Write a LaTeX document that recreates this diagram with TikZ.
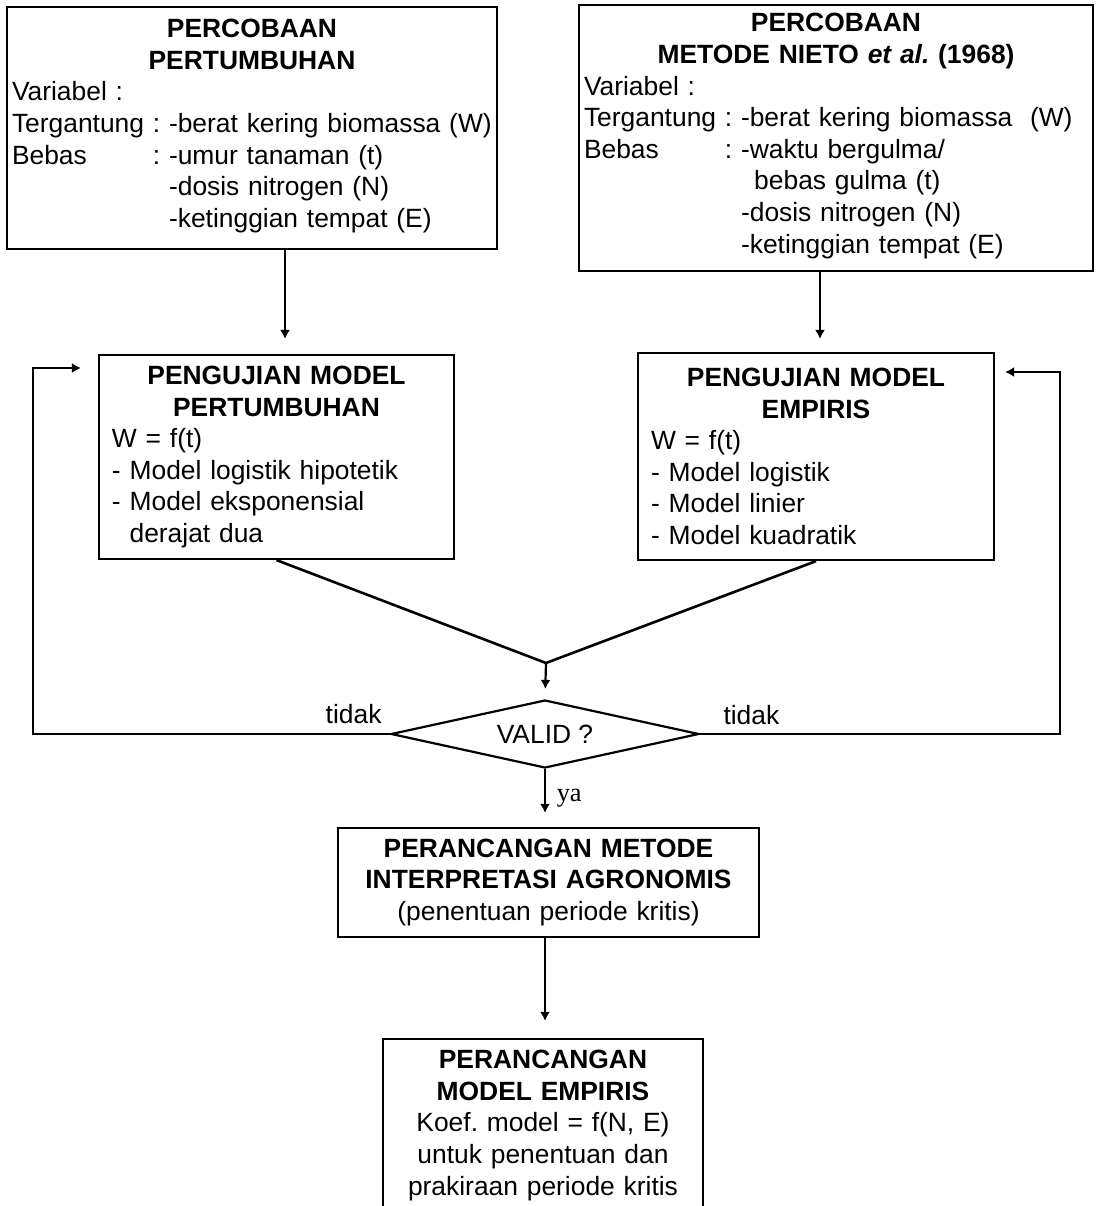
\documentclass[tikz,border=0pt]{standalone}
\usepackage{fontspec}
\setmainfont{Liberation Sans}
\newfontfamily\yafont{Liberation Serif}
\usepackage{tikz}
\usetikzlibrary{arrows.meta,shapes,positioning}
\frenchspacing
\tikzset{
  box/.style={draw, line width=1.1pt, inner xsep=2.5pt, inner ysep=0pt, align=left,
    font=\fontsize{13.2}{15.8}\selectfont},
  decision/.style={diamond, draw, line width=1.1pt, aspect=4.5, minimum width=154pt,
    minimum height=34pt, inner sep=0pt, font=\fontsize{13.2}{15.8}\selectfont},
  link/.style={line width=1.1pt, -{Latex[length=4.5pt,width=5pt]}},
  lbl/.style={font=\fontsize{13.2}{15.8}\selectfont, inner sep=0pt}
}

\begin{document}
\begin{tikzpicture}[x=0.5pt, y=-0.5pt]
        % Page frame
        \clip (0,0) rectangle (1098,1206);
        \fill[white] (0,0) rectangle (1098,1206);

        % Experiments
        \node[box, text width=240pt, minimum width=245pt, minimum height=121pt] (perc1) at (252,128) {%
            {\centering\bfseries PERCOBAAN\\PERTUMBUHAN\par}
            Variabel :\\
            \begin{tabular}[t]{@{}l@{ }l@{}}
            Tergantung & : -berat kering biomassa (W)\\
            Bebas      & : -umur tanaman (t)\\
                       & \phantom{: }-dosis nitrogen (N)\\
                       & \phantom{: }-ketinggian tempat (E)
            \end{tabular}};
        \node[box, text width=252pt, minimum width=257pt, minimum height=133pt] (perc2) at (836,138) {%
            {\centering\bfseries PERCOBAAN\\METODE NIETO \textit{et al.} (1968)\par}
            Variabel :\\
            \begin{tabular}[t]{@{}l@{ }l@{}}
            Tergantung & : -berat kering biomassa~~(W)\\
            Bebas      & : -waktu bergulma/\\
                       & \phantom{: -}\,bebas gulma (t)\\
                       & \phantom{: }-dosis nitrogen (N)\\
                       & \phantom{: }-ketinggian tempat (E)
            \end{tabular}};

        % Model tests
        \node[box, inner xsep=6.5pt, text width=164.5pt, minimum width=177.5pt, minimum height=102pt] (uji1) at (276.5,457) {%
            {\centering\bfseries PENGUJIAN MODEL\\PERTUMBUHAN\par}
            W = f(t)\\
            - Model logistik hipotetik\\
            - Model eksponensial\\
            \phantom{- }derajat dua};
        \node[box, inner xsep=6.5pt, text width=165pt, minimum width=178pt, minimum height=103.5pt] (uji2) at (816,456.5) {%
            {\centering\bfseries PENGUJIAN MODEL\\EMPIRIS\par}
            W = f(t)\\
            - Model logistik\\
            - Model linier\\
            - Model kuadratik};

        % Decision
        \coordinate (merge) at (546,663);
        \node[decision] (valid) at (545,734) {VALID ?};

        % Design steps
        \node[box, align=center, text width=205pt, minimum width=210.5pt, minimum height=54.5pt] (rancang1) at (548.5,882.5) {%
            {\bfseries PERANCANGAN METODE\\INTERPRETASI AGRONOMIS}\\
            (penentuan periode kritis)};
        \node[box, align=center, text width=155pt, minimum width=160pt, minimum height=86.5pt] (rancang2) at (543,1125.5) {%
            {\bfseries PERANCANGAN\\MODEL EMPIRIS}\\
            Koef. model = f(N, E)\\
            untuk penentuan dan\\
            prakiraan periode kritis};

        % Arrows between the boxes
        \coordinate (a1) at (285,0);
        \coordinate (a2) at (820,0);
        \draw[link, shorten >=7.5pt] (perc1.south -| a1) -- (uji1.north -| a1);
        \draw[link, shorten >=6.5pt] (perc2.south -| a2) -- (uji2.north -| a2);
        \draw[line width=1.3pt] (uji1.south) -- (merge) -- (uji2.south);
        \draw[link, shorten >=5pt] (merge) -- (valid.north);

        % Feedback loops
        \coordinate (lb) at (33,368);
        \coordinate (rb) at (1060,372);
        \draw[link, shorten >=8.5pt] (valid.west) -| (lb) -- (lb -| uji1.west);
        \draw[link, shorten >=5pt] (valid.east) -| (rb) -- (rb -| uji2.east);
        \node[lbl, above left=5pt and 4pt of valid.west] (tidakL) {tidak};
        \node[lbl, above right=4.5pt and 11.5pt of valid.east] (tidakR) {tidak};

        % Accepted path
        \draw[link, shorten >=7pt] (valid.south) -- (valid.south |- rancang1.north)
            node[pos=0.5, right=2pt, font=\yafont\fontsize{13.2}{15.8}\selectfont] (ya) {ya};
        \draw[link, shorten >=8.5pt] (rancang1.south -| valid.south) -- (rancang2.north -| valid.south);
\end{tikzpicture}
\end{document}
